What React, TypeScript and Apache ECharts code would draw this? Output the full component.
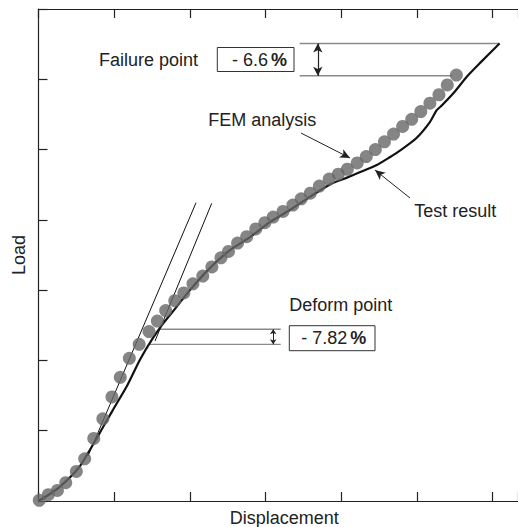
import { useEffect, useRef } from "react";
import * as echarts from "echarts";

// FEM analysis (dots)
const femX = [0.01, 0.13, 0.25, 0.36, 0.5, 0.61, 0.73, 0.85, 0.97, 1.08, 1.2, 1.33, 1.46, 1.57, 1.68, 1.8, 1.92, 2.04, 2.17, 2.29, 2.41, 2.51, 2.63, 2.75, 2.87, 2.99, 3.1, 3.23, 3.36, 3.47, 3.59, 3.71, 3.84, 3.96, 4.08, 4.21, 4.33, 4.45, 4.57, 4.69, 4.81, 4.93, 5.05, 5.17, 5.29, 5.4, 5.52];
const femY = [0.01, 0.09, 0.15, 0.26, 0.42, 0.6, 0.89, 1.17, 1.48, 1.76, 2.03, 2.23, 2.41, 2.56, 2.71, 2.85, 2.96, 3.09, 3.2, 3.33, 3.46, 3.55, 3.67, 3.76, 3.87, 3.96, 4.04, 4.12, 4.21, 4.3, 4.38, 4.48, 4.58, 4.65, 4.72, 4.81, 4.9, 5.0, 5.11, 5.22, 5.33, 5.43, 5.54, 5.66, 5.78, 5.92, 6.06];

// Test result (black line)
const testX = [0, 0.15, 0.28, 0.42, 0.55, 0.68, 0.81, 0.98, 1.17, 1.34, 1.5, 1.65, 1.8, 2.0, 2.26, 2.53, 2.79, 3.06, 3.32, 3.59, 3.86, 4.05, 4.25, 4.47, 4.64, 4.77, 4.99, 5.17, 5.26, 5.33, 5.48, 5.66, 5.83, 6.09];
const testY = [0, 0.1, 0.2, 0.34, 0.5, 0.73, 0.97, 1.29, 1.64, 2.01, 2.3, 2.53, 2.73, 3.0, 3.31, 3.57, 3.75, 3.97, 4.14, 4.33, 4.51, 4.59, 4.68, 4.78, 4.89, 4.98, 5.16, 5.39, 5.56, 5.63, 5.8, 6.04, 6.23, 6.51];

// Initial stiffness tangent lines
const tangentA = [[0.654, 0.64], [2.081, 4.244]];
const tangentB = [[1.539, 2.276], [2.288, 4.235]];

// Reference levels
const failureTop = [[3.45, 6.51], [6.09, 6.51]];
const failureBottom = [[3.45, 6.05], [5.46, 6.05]];
const failureArrow = [[3.69, 6.51], [3.69, 6.05]];
const deformTop = [[1.605, 2.443], [3.2, 2.443]];
const deformBottom = [[1.464, 2.229], [3.2, 2.229]];
const deformArrow = [[3.1, 2.443], [3.1, 2.229]];

// Annotation pointers
const femPointer = [[3.468, 5.235], [4.115, 4.88]];
const testPointer = [[4.907, 4.311], [4.445, 4.709]];

const xTicks = [0, 1, 2, 3, 4, 5, 6];
const yTicks = [0, 1, 2, 3, 4, 5, 6, 7];

const FONT = "'Liberation Sans', Arial, sans-serif";

export default function App() {
  const ref = useRef<HTMLDivElement>(null);
  useEffect(() => {
    if (!ref.current) return;
    const chart = echarts.init(ref.current, null, { renderer: "svg" });
    const axisCommon = {
      type: "value" as const,
      min: xTicks[0],
      max: 6.334,
      interval: 1,
      splitLine: { show: false },
      axisLabel: { show: false },
      axisLine: { lineStyle: { color: "#222", width: 1.2 } },
      axisTick: { inside: true, length: 9, lineStyle: { color: "#222", width: 1.2 } },
    };
    const refLine = (d: number[][]) => ({
      type: "line",
      data: d,
      symbol: "none",
      silent: true,
      lineStyle: { color: "#8a8a8a", width: 1.4 },
      z: 1,
    });
    const arrowLine = (d: number[][], both: boolean, size: number[], color: string, width: number) => ({
      type: "line",
      data: [],
      silent: true,
      markLine: {
        silent: true,
        symbol: both ? ["arrow", "arrow"] : ["none", "arrow"],
        symbolSize: size,
        label: { show: false },
        lineStyle: { color, width, type: "solid" },
        data: [[{ coord: d[0] }, { coord: d[1] }]],
      },
    });
    chart.setOption({
      animation: false,
      grid: { left: 38.5, right: 0, top: 9, bottom: 26, containLabel: false, outerBoundsMode: "none" },
      xAxis: [
        {
          ...axisCommon,
          position: "bottom",
          name: "Displacement",
          nameLocation: "middle",
          nameGap: 8,
          nameTextStyle: { fontSize: 18, color: "#222", fontFamily: FONT, padding: [0, 0, 0, 12] },
        },
        { ...axisCommon, position: "top" },
      ],
      yAxis: {
        type: "value",
        min: yTicks[0],
        max: yTicks[yTicks.length - 1],
        interval: 1,
        splitLine: { show: false },
        axisLabel: { show: false },
        axisLine: { lineStyle: { color: "#222", width: 1.2 } },
        axisTick: { inside: true, length: 9, lineStyle: { color: "#222", width: 1.2 } },
        name: "Load",
        nameLocation: "middle",
        nameGap: 11,
        nameTextStyle: { fontSize: 18, color: "#222", fontFamily: FONT },
      },
      series: [
        refLine(failureTop),
        refLine(failureBottom),
        refLine(deformTop),
        refLine(deformBottom),
        {
          type: "line",
          data: tangentA,
          symbol: "none",
          silent: true,
          lineStyle: { color: "#111", width: 1 },
          z: 2,
        },
        {
          type: "line",
          data: tangentB,
          symbol: "none",
          silent: true,
          lineStyle: { color: "#111", width: 1 },
          z: 2,
        },
        {
          name: "Test result",
          type: "line",
          data: testX.map((x, i) => [x, testY[i]]),
          symbol: "none",
          smooth: 0.2,
          silent: true,
          lineStyle: { color: "#111", width: 2.2 },
          z: 3,
        },
        {
          name: "FEM analysis",
          type: "scatter",
          data: femX.map((x, i) => [x, femY[i]]),
          symbol: "circle",
          symbolSize: 13,
          silent: true,
          itemStyle: { color: "#666666" },
          z: 4,
        },
        arrowLine(failureArrow, true, [7, 9], "#222", 1.2),
        arrowLine(deformArrow, true, [5, 5], "#222", 1),
        arrowLine(femPointer, false, [7, 10], "#222", 1),
        arrowLine(testPointer, false, [7, 10], "#222", 1),
      ],
      graphic: [
        {
          type: "text",
          x: 99,
          y: 60,
          style: { text: "Failure point", fontSize: 18, fontFamily: FONT, fill: "#222", align: "left", verticalAlign: "middle" },
        },
        {
          type: "rect",
          shape: { x: 217.3, y: 47.5, width: 76.7, height: 24 },
          style: { fill: "#fff", stroke: "#333", lineWidth: 1 },
        },
        {
          type: "text",
          x: 259.5,
          y: 60,
          style: {
            text: "{n|- 6.6}{b|%}",
            align: "center",
            verticalAlign: "middle",
            rich: {
              n: { fontSize: 18, fontFamily: FONT, fill: "#222" },
              b: { fontSize: 18, fontFamily: FONT, fontWeight: "bold", fill: "#222", padding: [0, 0, 0, 3] },
            },
          },
        },
        {
          type: "text",
          x: 208.3,
          y: 120,
          style: { text: "FEM analysis", fontSize: 18, fontFamily: FONT, fill: "#222", align: "left", verticalAlign: "middle" },
        },
        {
          type: "text",
          x: 414.3,
          y: 210.5,
          style: { text: "Test result", fontSize: 18, fontFamily: FONT, fill: "#222", align: "left", verticalAlign: "middle" },
        },
        {
          type: "text",
          x: 289.3,
          y: 304.5,
          style: { text: "Deform point", fontSize: 18, fontFamily: FONT, fill: "#222", align: "left", verticalAlign: "middle" },
        },
        {
          type: "rect",
          shape: { x: 289.3, y: 325.7, width: 85.7, height: 25 },
          style: { fill: "#fff", stroke: "#333", lineWidth: 1 },
        },
        {
          type: "text",
          x: 333.8,
          y: 338.3,
          style: {
            text: "{n|- 7.82}{b|%}",
            align: "center",
            verticalAlign: "middle",
            rich: {
              n: { fontSize: 18, fontFamily: FONT, fill: "#222" },
              b: { fontSize: 18, fontFamily: FONT, fontWeight: "bold", fill: "#222", padding: [0, 0, 0, 3] },
            },
          },
        },
      ],
    });
    return () => chart.dispose();
  }, []);
  return (
    <div
      ref={ref}
      style={{ position: "fixed", left: 0, top: 0, width: 518, height: 527, background: "#fff" }}
    />
  );
}
